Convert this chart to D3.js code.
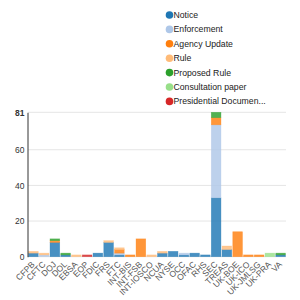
<!DOCTYPE html>
<html>
<head>
<meta charset="utf-8">
<script src="https://cdn.jsdelivr.net/npm/d3@7"></script>
<style>
  body { margin: 0; background: #fff; }
  svg text { font-family: Arial, "Liberation Sans", sans-serif; }
</style>
</head>
<body>
<div id="chart"></div>
<script>
// categories and series
const agencies = ["CFPB","CFTC","DOJ","DOL","EBSA","EOP","FDIC","FRS","FTC","INT-BIS","INT-FSB","INT-IOSCO",
                  "NCUA","NYSE","OCC","OFAC","RHS","SEC","TREAS","UK-BOE","UK-ICO","UK-JMLSG","UK-PRA","VA"];
const seriesNames = ["Notice","Enforcement","Agency Update","Rule","Proposed Rule","Consultation paper","Presidential Documen..."];
const seriesColors = ["#1f77b4","#aec7e8","#ff7f0e","#ffbb78","#2ca02c","#98df8a","#d62728"];

const notice         = [2,0,8,1,0,0,2,8,1,0,0,0,2,3,1,2,1,33,4,0,0,0,0,1];
const enforcement    = [0,1,0,0,0,0,0,0,1,0,0,0,0,0,1,0,0,41,0,0,0,0,0,0];
const agencyUpdate   = [0,0,1,0,0,0,0,0,2,1,10,0,0,0,0,0,0,4,0,14,1,1,0,0];
const rule           = [1,1,0,0,1,0,0,1,1,0,0,1,1,0,0,0,0,0,2,0,0,0,0,0];
const proposedRule   = [0,0,1,1,0,0,0,0,0,0,0,0,0,0,0,0,0,3,0,0,0,0,0,1];
const consultation   = [0,0,0,0,0,0,0,0,0,0,0,0,0,0,0,0,0,0,0,0,0,0,2,0];
const presidential   = [0,0,0,0,0,1,0,0,0,0,0,0,0,0,0,0,0,0,0,0,0,0,0,0];
const yTicks = [0,20,40,60,81];

const seriesValues = [notice, enforcement, agencyUpdate, rule, proposedRule, consultation, presidential];

const width = 300, height = 300;
const svg = d3.select("#chart").append("svg")
    .attr("width", width).attr("height", height);

// build a table for the stack
const table = agencies.map(function(a, i) {
    let row = {agency: a};
    seriesNames.forEach(function(s, j) { row[s] = seriesValues[j][i]; });
    return row;
});
const stacked = d3.stack().keys(seriesNames)(table);

const x = d3.scaleBand().domain(agencies).range([28, 286]).paddingInner(0.1).paddingOuter(0.05);
const y = d3.scaleLinear().domain([0, 81]).range([256.7, 112.3]);

// gridlines
svg.append("g").selectAll("line").data(yTicks).join("line")
    .attr("x1", 28).attr("x2", 286)
    .attr("y1", d => y(d)).attr("y2", d => y(d))
    .attr("stroke", "#e5e5e5").attr("stroke-width", 1);

// bars
svg.append("g").selectAll("g").data(stacked).join("g")
    .attr("fill", (d, i) => seriesColors[i])
    .attr("stroke", (d, i) => seriesColors[i])
    .selectAll("rect").data(d => d.filter(p => p[1] - p[0] > 0)).join("rect")
    .attr("x", d => x(d.data.agency))
    .attr("width", x.bandwidth())
    .attr("y", d => y(d[1]))
    .attr("height", d => y(d[0]) - y(d[1]))
    .attr("fill-opacity", 0.82)
    .attr("stroke-opacity", 0.5)
    .attr("stroke-width", 0.6);

// y axis
const yAxis = svg.append("g")
    .attr("transform", "translate(27.5,0)")
    .call(d3.axisLeft(y).tickValues(yTicks).tickSize(0).tickPadding(3));
yAxis.select(".domain").attr("stroke", "#333").attr("stroke-width", 1);
yAxis.selectAll("text")
    .attr("font-size", 8.5)
    .attr("fill", "#333")
    .attr("font-weight", d => d === 81 ? "bold" : "normal");

// x axis labels
const xAxis = svg.append("g")
    .attr("transform", "translate(0,257)")
    .call(d3.axisBottom(x).tickSize(0).tickPadding(0));
xAxis.select(".domain").remove();
xAxis.selectAll("text")
    .attr("font-size", 8.5)
    .attr("fill", "#555")
    .attr("text-anchor", "end")
    .attr("dy", 0)
    .attr("transform", "translate(2,8) rotate(-45)");

// legend
const legend = svg.append("g").attr("transform", "translate(169.5,15)");
const items = legend.selectAll("g").data(seriesNames).join("g")
    .attr("transform", (d, i) => "translate(0," + (i * 14.4) + ")");
items.append("circle").attr("r", 3.8)
    .attr("fill", (d, i) => seriesColors[i]);
items.append("text").attr("x", 4).attr("dy", "0.35em")
    .attr("font-size", 8.7).attr("fill", "#222")
    .text(d => d);
</script>
</body>
</html>
